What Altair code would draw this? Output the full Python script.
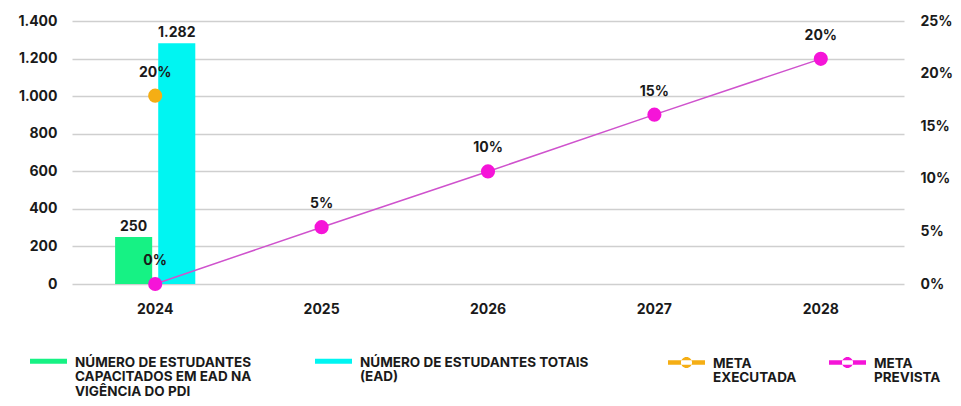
import altair as alt
import pandas as pd

# ---- data ----
anos = ["2024", "2025", "2026", "2027", "2028"]

bar_anos = ["2024", "2024"]
bar_series = [
    "NÚMERO DE ESTUDANTES|CAPACITADOS EM EAD NA|VIGÊNCIA DO PDI",
    "NÚMERO DE ESTUDANTES TOTAIS|(EAD)| ",
]
bar_valores = [250, 1282]
bar_cores = ["#16F284", "#00F5F2"]

meta_series = ["META|EXECUTADA", "META|PREVISTA"]
meta_cores = ["#F5AE14", "#F514D8"]

executada_anos = ["2024"]
executada_valores = [0.179]
executada_rotulos = ["20%"]

prevista_anos = ["2024", "2025", "2026", "2027", "2028"]
prevista_valores = [0.0, 0.054, 0.107, 0.161, 0.214]
prevista_rotulos = ["0%", "5%", "10%", "15%", "20%"]

left_ticks = [0, 200, 400, 600, 800, 1000, 1200, 1400]
right_ticks = [0, 0.05, 0.10, 0.15, 0.20, 0.25]

# ---- tables ----
bars = pd.DataFrame({"ano": bar_anos, "serie": bar_series, "valor": bar_valores})
metas = pd.DataFrame({
    "ano": executada_anos + prevista_anos,
    "serie": [meta_series[0]] * len(executada_anos) + [meta_series[1]] * len(prevista_anos),
    "valor": executada_valores + prevista_valores,
    "rotulo": executada_rotulos + prevista_rotulos,
})
prevista = metas[metas["serie"] == meta_series[1]]

FONT = "Inter"
TXT = "#1a1a1a"
LEG_FS = 13.5

x_enc = alt.X(
    "ano:N",
    scale=alt.Scale(domain=anos, paddingInner=0, paddingOuter=0),
    axis=alt.Axis(title=None, labelFontSize=14, labelFontWeight="bold", ticks=False,
                  domain=False, labelPadding=18, labelAngle=0, labelColor=TXT),
)

bar_legend = alt.Legend(
    title=None, orient="none", legendX=-42, legendY=316, direction="horizontal",
    columns=2, columnPadding=63, padding=0,
    symbolType="M-1,0.17H1V0.45H-1Z", symbolSize=1369, symbolStrokeWidth=0,
    labelExpr="split(datum.label, '|')", labelFontSize=LEG_FS, labelFontWeight="bold",
    labelBaseline="top", labelLimit=0, labelOffset=8, labelColor=TXT,
)

meta_legend = alt.Legend(
    title=None, orient="none", legendX=596, legendY=317, direction="horizontal",
    columns=2, columnPadding=32, padding=0,
    symbolType="M-1,0.19H1V0.43H-1Z M-0.3,0.31A0.3,0.3 0 1,0 0.3,0.31A0.3,0.3 0 1,0 -0.3,0.31Z",
    symbolSize=1369, symbolStrokeWidth=0,
    labelExpr="split(datum.label, '|')", labelFontSize=LEG_FS, labelFontWeight="bold",
    labelBaseline="top", labelLimit=0, labelOffset=8, labelColor=TXT,
)

y_left = alt.Y(
    "valor:Q",
    stack=False,
    scale=alt.Scale(domain=[0, 1400], nice=False),
    axis=alt.Axis(title=None, values=left_ticks, grid=True, gridColor="#CFCFCF", gridWidth=1.6,
                  domain=False, ticks=False, labelPadding=15, labelFontSize=14,
                  labelFontWeight="bold", labelColor=TXT,
                  labelExpr="replace(format(datum.value, ','), ',', '.')"),
)

xoff = alt.XOffset("serie:N", scale=alt.Scale(domain=bar_series, paddingInner=0.14, paddingOuter=1))

bar_base = alt.Chart(bars).encode(x=x_enc, xOffset=xoff, y=y_left)
bar_marks = bar_base.mark_bar(opacity=1).encode(
    color=alt.Color("serie:N", scale=alt.Scale(domain=bar_series, range=bar_cores), legend=bar_legend)
)
bar_text = bar_base.transform_calculate(
    txt="replace(format(datum.valor, ','), ',', '.')"
).mark_text(baseline="bottom", dy=-3, fontSize=14, fontWeight="bold", color=TXT).encode(text="txt:N")

left = alt.layer(bar_marks, bar_text)

y_right = alt.Y(
    "valor:Q",
    scale=alt.Scale(domain=[0, 0.25], nice=False),
    axis=alt.Axis(title=None, orient="right", values=right_ticks, format=".0%", grid=False,
                  domain=False, ticks=False, labelPadding=16, labelFontSize=14,
                  labelFontWeight="bold", labelColor=TXT),
)

line = alt.Chart(prevista).mark_line(color="#CF52CD", strokeWidth=1.5).encode(x=x_enc, y=y_right)
points = alt.Chart(metas).mark_circle(size=200, opacity=1).encode(
    x=x_enc, y=y_right,
    color=alt.Color("serie:N", scale=alt.Scale(domain=meta_series, range=meta_cores), legend=meta_legend),
)
point_text = alt.Chart(metas).mark_text(dy=-23, fontSize=14, fontWeight="bold", color=TXT).encode(
    x=x_enc, y=y_right, text="rotulo:N"
)
right = alt.layer(line, points, point_text)

chart = (
    alt.layer(left, right)
    .resolve_scale(y="independent", color="independent")
    .properties(
        width=832, height=263,
        autosize=alt.AutoSizeParams(type="none"),
        padding={"left": 64, "top": 13, "right": 49, "bottom": 114},
    )
    .configure(font=FONT, style={"guide-label": {"lineHeight": 14.5}})
    .configure_view(strokeWidth=0)
)

chart.save("out.html", embed_options={"renderer": "svg", "actions": False})
